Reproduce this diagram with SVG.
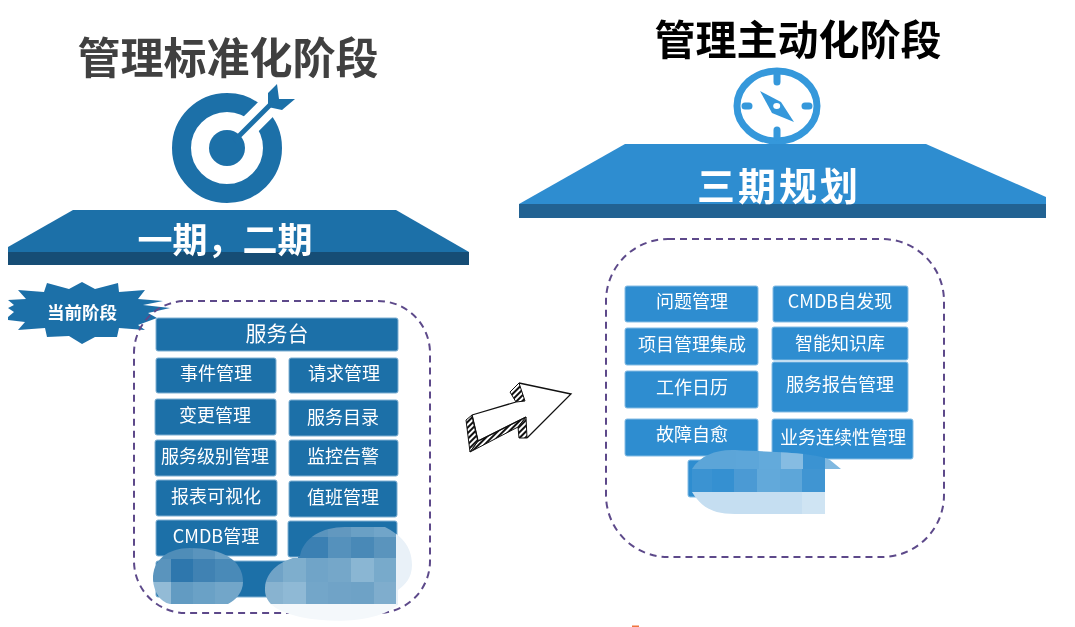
<svg xmlns="http://www.w3.org/2000/svg" width="1075" height="627" viewBox="0 0 1075 627">
<style>
text{font-family:"Noto Sans CJK SC","Noto Sans",sans-serif;text-anchor:middle}
.a{fill:#1d6fa8;stroke:#7fb0d2;stroke-width:1}
.b{fill:#2e8dd0;stroke:#85bce4;stroke-width:1}
.t{fill:#fff;font-size:18px}
.dash{fill:none;stroke:#5d4a8a;stroke-width:2;stroke-dasharray:7 5}
.h{font-size:42px;font-weight:700}
.p{fill:#fff;font-size:35px;font-weight:700}
</style>
<defs>
<pattern id="hatch" width="4" height="4" patternUnits="userSpaceOnUse" patternTransform="rotate(-45)"><rect width="4" height="4" fill="#fff"/><rect width="4" height="2" fill="#111"/></pattern>
<clipPath id="blobL"><path d="M153 580C152 560 168 548 190 548C222 548 243 560 243 582C243 592 236 600 228 604H170C160 602 154 592 153 580Z"/></clipPath>
<clipPath id="blobR"><path d="M265 588C266 570 282 560 300 556C303 538 322 527 345 527H385C400 535 412 545 412 565C412 578 405 585 398 590V605C380 620 340 625 300 617C280 612 264 605 265 588Z"/></clipPath>
<clipPath id="blobM"><path d="M692 469C700 455 718 449 735 450C770 452 815 452 830 460L841 469H825V514H735C710 514 700 505 692 492Z"/></clipPath>
<filter id="soft" x="-2%" y="-2%" width="104%" height="104%"><feGaussianBlur stdDeviation="0.45"/></filter>
</defs>
<rect width="1075" height="627" fill="#fff"/>
<g filter="url(#soft)">
<g id="phase1-title"><text class="h" x="228" y="74" fill="#404040" style="font-size:43px">管理标准化阶段</text></g>
<g id="target-icon">
<circle cx="227" cy="148" r="45.500" fill="none" stroke="#1d6fa8" stroke-width="19"/>
<path d="M240 135L285 90" stroke="#fff" stroke-width="21"/>
<circle cx="227" cy="148" r="18" fill="#1d6fa8"/>
<path d="M234 141L272 103" stroke="#1d6fa8" stroke-width="5"/>
<path d="M277 84L279 99H295L282 110L268 107V93Z" fill="#1d6fa8"/>
</g>
<g id="platform-1">
<path d="M8 252H469V265H8Z" fill="#164e75"/>
<path d="M73 210H396L469 252H8V247Z" fill="#1d6fa8"/>
<text class="p" x="225" y="253">一期，二期</text>
</g>
<g id="phase2-title"><text class="h" x="798" y="55" fill="#000" style="font-size:41px">管理主动化阶段</text></g>
<g id="compass-icon">
<ellipse cx="777" cy="106" rx="40" ry="35" fill="none" stroke="#3498db" stroke-width="7"/>
<path d="M777 75V82M777 130V137M745 106H749M805 106H809" stroke="#3498db" stroke-width="7" stroke-linecap="round"/>
<path d="M760 91L781 102L794 122L772 113Z" fill="#3498db"/>
<ellipse cx="776.700" cy="106" rx="3.500" ry="3" fill="#fff"/>
</g>
<g id="platform-2">
<path d="M519 204H1046V218H519Z" fill="#236292"/>
<path d="M625 144H926L1046 197V204H519Z" fill="#2e8dd0"/>
<text class="p" x="779" y="200" style="font-size:38px;letter-spacing:3px">三期规划</text>
</g>
<g id="current-badge">
<path d="M82 282L95 289L118 283L119 292L145 290L138 299L163 301L143 305L170 308L148 313L157 318L138 325L145 330L119 328L117 337L95 337L82 344L69 336L47 337L45 328L18 330L25 322L8 320V317L14 312L8 308L14 305L8 300L26 299L18 290L44 292L47 283L69 289Z" fill="#1d6fa8"/>
<text x="82" y="319" fill="#fff" style="font-size:17.500px;font-weight:700">当前阶段</text>
</g>
<g id="scope-1">
<rect class="dash" x="134" y="301" width="296" height="312" rx="52"/>
<rect class="a" x="156" y="318" width="242" height="33" rx="2"/><text class="t" x="277" y="341" style="font-size:21px">服务台</text>
</g>
<g id="n-event"><rect class="a" x="156" y="358" width="120" height="35" rx="2"/><text class="t" x="216" y="380">事件管理</text></g>
<g id="n-request"><rect class="a" x="289" y="358" width="109" height="35" rx="2"/><text class="t" x="344" y="380">请求管理</text></g>
<g id="n-change"><rect class="a" x="155" y="399" width="121" height="36" rx="2"/><text class="t" x="215" y="422">变更管理</text></g>
<g id="n-catalog"><rect class="a" x="289" y="400" width="109" height="36" rx="2"/><text class="t" x="343" y="424">服务目录</text></g>
<g id="n-sla"><rect class="a" x="155" y="440" width="121" height="36" rx="2"/><text class="t" x="215" y="463">服务级别管理</text></g>
<g id="n-monitor"><rect class="a" x="289" y="440" width="109" height="36" rx="2"/><text class="t" x="343" y="463">监控告警</text></g>
<g id="n-report"><rect class="a" x="156" y="480" width="121" height="36" rx="2"/><text class="t" x="216" y="503">报表可视化</text></g>
<g id="n-duty"><rect class="a" x="289" y="481" width="108" height="36" rx="2"/><text class="t" x="343" y="504">值班管理</text></g>
<g id="n-cmdb"><rect class="a" x="156" y="520" width="121" height="36" rx="2"/><text class="t" x="216" y="543">CMDB管理</text></g>
<g id="n-hidden1"><rect class="a" x="288" y="521" width="109" height="36" rx="2"/></g>
<g id="n-hidden2"><rect class="a" x="156" y="561" width="241" height="36" rx="2"/></g>
<g id="mosaic-left" clip-path="url(#blobL)">
<rect x="150" y="545" width="21" height="14" fill="#4f8db8"/><rect x="171" y="545" width="22" height="14" fill="#4f8db8"/><rect x="193" y="545" width="22" height="14" fill="#5a94bd"/><rect x="215" y="545" width="30" height="14" fill="#6aa0c5"/>
<rect x="150" y="559" width="21" height="23" fill="#5a94bd"/><rect x="171" y="559" width="22" height="23" fill="#2f77ad"/><rect x="193" y="559" width="22" height="23" fill="#3f82b3"/><rect x="215" y="559" width="30" height="23" fill="#4a8ab8"/>
<rect x="150" y="582" width="21" height="24" fill="#93bbd6"/><rect x="171" y="582" width="22" height="24" fill="#629bc2"/><rect x="193" y="582" width="22" height="24" fill="#6ba1c6"/><rect x="215" y="582" width="30" height="24" fill="#72a6c9"/>
</g>
<g id="mosaic-right">
<g clip-path="url(#blobR)">
<rect x="260" y="604" width="160" height="25" fill="#f4f8fb"/>
<rect x="396" y="525" width="20" height="80" fill="#e9f1f8"/>
<rect x="298" y="525" width="30" height="12" fill="#5a94bd"/><rect x="328" y="525" width="23" height="12" fill="#6298bf"/><rect x="351" y="525" width="23" height="12" fill="#6ba0c5"/><rect x="374" y="525" width="22" height="12" fill="#71a5c9"/>
<rect x="298" y="537" width="30" height="21" fill="#3a80b3"/><rect x="328" y="537" width="23" height="21" fill="#5491bc"/><rect x="351" y="537" width="23" height="21" fill="#4a89b7"/><rect x="374" y="537" width="22" height="21" fill="#5a94bd"/>
<rect x="260" y="558" width="23" height="24" fill="#6fa3c7"/><rect x="283" y="558" width="23" height="24" fill="#7eaecd"/><rect x="306" y="558" width="22" height="24" fill="#70a4c8"/><rect x="328" y="558" width="23" height="24" fill="#74a7c9"/><rect x="351" y="558" width="23" height="24" fill="#8ab6d3"/><rect x="374" y="558" width="22" height="24" fill="#78aacb"/>
<rect x="260" y="582" width="23" height="22" fill="#88b3d0"/><rect x="283" y="582" width="23" height="22" fill="#8fb9d5"/><rect x="306" y="582" width="22" height="22" fill="#73a6c9"/><rect x="328" y="582" width="23" height="22" fill="#6fa3c7"/><rect x="351" y="582" width="23" height="22" fill="#6ea2c6"/><rect x="374" y="582" width="22" height="22" fill="#7fadcd"/>
</g>
</g>
<g id="scope-2"><rect class="dash" x="606" y="239" width="338" height="318" rx="62"/></g>
<g id="n-problem"><rect class="b" x="625" y="286" width="133" height="36" rx="2"/><text class="t" x="692" y="308">问题管理</text></g>
<g id="n-project"><rect class="b" x="625" y="328" width="133" height="37" rx="2"/><text class="t" x="692" y="351">项目管理集成</text></g>
<g id="n-calendar"><rect class="b" x="625" y="371" width="133" height="37" rx="2"/><text class="t" x="692" y="394">工作日历</text></g>
<g id="n-heal"><rect class="b" x="625" y="419" width="133" height="37" rx="2"/><text class="t" x="692" y="441">故障自愈</text></g>
<g id="n-cmdb2"><rect class="b" x="773" y="286" width="135" height="36" rx="2"/><text class="t" x="840" y="308">CMDB自发现</text></g>
<g id="n-knowledge"><rect class="b" x="772" y="327" width="136" height="33" rx="2"/><text class="t" x="840" y="350">智能知识库</text></g>
<g id="n-svcreport"><rect class="b" x="772" y="362" width="136" height="50" rx="2"/><text class="t" x="840" y="391">服务报告管理</text></g>
<g id="n-bcm"><rect class="b" x="772" y="419" width="141" height="40" rx="2"/><text class="t" x="843" y="444">业务连续性管理</text></g>
<g id="n-hidden3"><rect class="b" x="688" y="460" width="60" height="37" rx="2"/></g>
<g id="mosaic-mid" clip-path="url(#blobM)">
<rect x="690" y="448" width="46" height="21" fill="#5ba5d8"/><rect x="736" y="448" width="23" height="21" fill="#5da6d9"/><rect x="759" y="448" width="22" height="21" fill="#64aadb"/><rect x="781" y="448" width="22" height="21" fill="#86bce2"/><rect x="803" y="448" width="22" height="21" fill="#3a93d2"/><rect x="825" y="448" width="18" height="21" fill="#7fb8e0"/>
<rect x="690" y="469" width="22" height="23" fill="#3a93d2"/><rect x="712" y="469" width="22" height="23" fill="#3690d1"/><rect x="734" y="469" width="23" height="23" fill="#4b9ad4"/><rect x="757" y="469" width="23" height="23" fill="#62a9da"/><rect x="780" y="469" width="22" height="23" fill="#5da6d9"/><rect x="802" y="469" width="23" height="23" fill="#3f95d2"/>
<rect x="690" y="492" width="135" height="22" fill="#c5def1"/><rect x="802" y="492" width="23" height="22" fill="#cfe4f3"/>
</g>
<rect x="632" y="625.500" width="7" height="1.500" fill="#f0743c"/>
</g>
<g id="connectors">
<path d="M472 415L516 402L510 392L519 383L571 394L527 438L519 438L526 417L478 441L470 452L466 420Z" fill="#fff"/>
<path d="M472 415L466 420L470 452L478 441Z M478 441L470 452L518 427L526 417Z M519 383L510 392L516 402L525 401Z M526 417L518 427L519 438L527 438Z" fill="url(#hatch)" stroke="#111" stroke-width="1"/>
<path d="M472 415L516 402M519 383L571 394L527 438M526 417L478 441L472 415" fill="none" stroke="#111" stroke-width="1.300"/>
</g>
</svg>
